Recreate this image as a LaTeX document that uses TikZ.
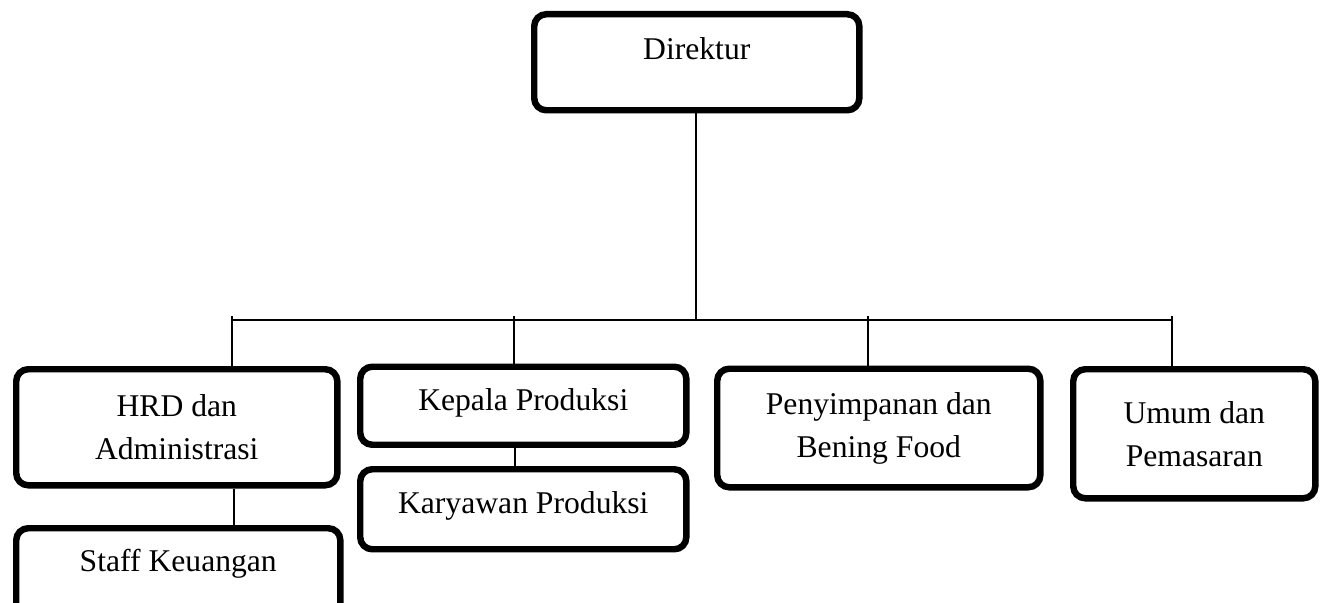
\documentclass[tikz,border=0pt]{standalone}
\usepackage{fontspec}
\setmainfont{Liberation Serif}

\tikzset{
	basic/.style = {draw, line width=4.6pt, rounded corners=0.3cm, anchor=north west, inner ysep=0pt, align=center},
	onebox/.style = {basic},
	twobox/.style = {basic},
	link/.style  = {line width=1.2pt}
}

\begin{document}
\begin{tikzpicture}[x=0.025cm, y=-0.025cm,
		every node/.style={font=\fontsize{22.5}{30.6}\selectfont}]
	
	\path[use as bounding box, clip] (0,0) rectangle (1321,603);
	
	% top of the chart
	\node[onebox, minimum width=8.125cm, text height=1.125cm, text depth=1.275cm] (dir) at (531,11) {Direktur};
	
	% second level
	\node[twobox, minimum width=8.025cm, minimum height=2.9cm] (hrd) at (13,366) {HRD dan\\Administrasi};
	\node[onebox, minimum width=8.15cm, text height=1.0875cm, text depth=0.8625cm] (kepala) at (357,363.5) {Kepala Produksi};
	\node[twobox, minimum width=8.075cm, minimum height=2.9625cm] (peny) at (714,365.5) {Penyimpanan dan\\Bening Food};
	\node[twobox, minimum width=6.05cm, minimum height=3.225cm] (umum) at (1070,366) {Umum dan\\Pemasaran};
	
	% third level
	\node[onebox, minimum width=8.1cm, text height=1.075cm, text depth=1.425cm] (staff) at (13,525) {Staff Keuangan};
	\node[onebox, minimum width=8.15cm, text height=1.1cm, text depth=0.9cm] (karyawan) at (357,466) {Karyawan Produksi};
	
	% bus line under the director
	\coordinate (bus) at (696,320);
	\coordinate (t1) at (232,316);
	\coordinate (t2) at (514,316);
	\coordinate (t3) at (868,316);
	\coordinate (t4) at (1172,316);
	\draw[link] (dir.south -| bus) -- (bus);
	\draw[link] (t1 |- bus) -- (t4 |- bus);
	
	\foreach \i/\n in {1/hrd,2/kepala,3/peny,4/umum}
	\draw[link] (t\i) -- (t\i |- \n.north);
	
	% lines to the staff boxes
	\coordinate (s1) at (234,0);
	\coordinate (s2) at (515,0);
	\draw[link] (hrd.south -| s1) -- (staff.north -| s1);
	\draw[link] (kepala.south -| s2) -- (karyawan.north -| s2);
	
\end{tikzpicture}
\end{document}
